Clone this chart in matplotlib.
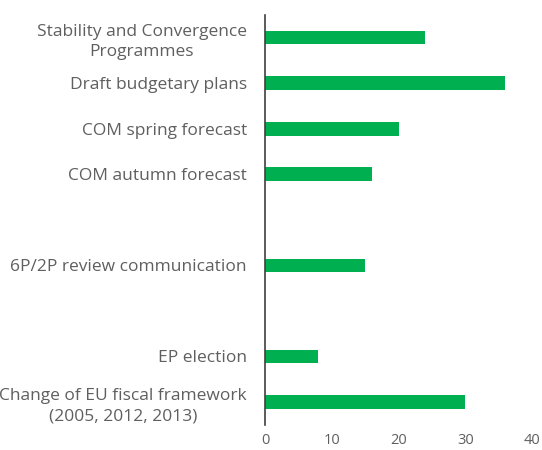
import matplotlib.pyplot as plt
import numpy as np

plt.rcParams['font.family'] = ['Open Sans', 'DejaVu Sans']

# empty strings are spacer rows between the groups of events
categories = ['Stability and Convergence\nProgrammes',
              'Draft budgetary plans',
              'COM spring forecast',
              'COM autumn forecast',
              '',
              '6P/2P review communication',
              '',
              'EP election',
              'Change of EU fiscal framework\n(2005, 2012, 2013)']
values = [24, 36, 20, 16, np.nan, 15, np.nan, 8, 30]
xticks = [0, 10, 20, 30, 40]

fig = plt.figure(figsize=(5.42, 4.5), dpi=100)
ax = fig.add_axes([0.489, 0.056, 0.4925, 0.911])

y = np.arange(len(categories))
vals = np.array(values, dtype=float)
mask = ~np.isnan(vals)
ax.barh(y[mask], vals[mask], height=0.3, color='#00B050')

ax.set_ylim(len(categories) - 0.5, -0.5)
ax.set_xlim(0, 40)
ax.set_yticks(y)
ax.set_yticklabels(categories, multialignment='center', linespacing=1.35)
ax.set_xticks(xticks)

ax.tick_params(axis='both', length=0, colors='#5f5f5f')
ax.tick_params(axis='y', pad=13, labelsize=12.5)
ax.tick_params(axis='x', pad=6, labelsize=10.5)

for s in ['top', 'right', 'bottom']:
    ax.spines[s].set_visible(False)
ax.spines['left'].set_color('#404040')
ax.spines['left'].set_linewidth(1.2)

fig.savefig('out.png', dpi=100)
